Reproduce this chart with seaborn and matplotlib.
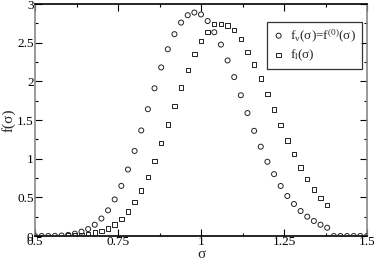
import matplotlib
matplotlib.use("Agg")
import matplotlib.pyplot as plt
import seaborn as sns
import numpy as np
import pandas as pd
from matplotlib.ticker import MultipleLocator

sigma_v = [0.50, 0.52, 0.54, 0.56, 0.58, 0.60, 0.62, 0.64, 0.66, 0.68, 0.70, 0.72, 0.74,
           0.76, 0.78, 0.80, 0.82, 0.84, 0.86, 0.88, 0.90, 0.92, 0.94, 0.96, 0.98, 1.00,
           1.02, 1.04, 1.06, 1.08, 1.10, 1.12, 1.14, 1.16, 1.18, 1.20, 1.22, 1.24, 1.26,
           1.28, 1.30, 1.32, 1.34, 1.36, 1.38, 1.40, 1.42, 1.44, 1.46, 1.48, 1.50]
f_v = [0, 0, 0, 0.002, 0.006, 0.014, 0.03, 0.056, 0.09, 0.146, 0.226, 0.332, 0.473,
       0.648, 0.86, 1.10, 1.365, 1.64, 1.91, 2.18, 2.415, 2.61, 2.76, 2.855, 2.89, 2.865,
       2.78, 2.635, 2.475, 2.27, 2.055, 1.82, 1.59, 1.36, 1.155, 0.96, 0.80, 0.647, 0.517,
       0.414, 0.323, 0.25, 0.194, 0.146, 0.107, 0, 0, 0, 0, 0, 0]

sigma_l = [0.60, 0.62, 0.64, 0.66, 0.68, 0.70, 0.72, 0.74, 0.76, 0.78, 0.80, 0.82, 0.84,
           0.86, 0.88, 0.90, 0.92, 0.94, 0.96, 0.98, 1.00, 1.02, 1.04, 1.06, 1.08, 1.10,
           1.12, 1.14, 1.16, 1.18, 1.20, 1.22, 1.24, 1.26, 1.28, 1.30, 1.32, 1.34, 1.36, 1.38]
f_l = [0.004, 0.008, 0.015, 0.025, 0.045, 0.067, 0.097, 0.148, 0.218, 0.318, 0.44, 0.586,
       0.763, 0.97, 1.20, 1.44, 1.68, 1.92, 2.15, 2.355, 2.52, 2.635, 2.74, 2.745, 2.72,
       2.665, 2.55, 2.38, 2.22, 2.035, 1.84, 1.635, 1.436, 1.235, 1.057, 0.884, 0.737,
       0.60, 0.495, 0.397]

x_ticks = [0.5, 0.75, 1.0, 1.25, 1.5]
x_ticklabels = ["0.5", "0.75", "1", "1.25", "1.5"]
y_ticks = [0, 0.5, 1, 1.5, 2, 2.5, 3]
y_ticklabels = ["0", "0.5", "1", "1.5", "2", "2.5", "3"]

sns.set_theme(style="white")
plt.rcParams['font.family'] = ['Liberation Serif', 'DejaVu Serif']
plt.rcParams['mathtext.fontset'] = 'custom'
plt.rcParams['mathtext.rm'] = 'Liberation Serif'
plt.rcParams['mathtext.it'] = 'Liberation Serif'

fig = plt.figure(figsize=(3.74, 2.60), dpi=100)
ax = fig.add_axes([0.0936, 0.0923, 0.8877, 0.8923])

df_v = pd.DataFrame({"s": sigma_v, "f": f_v})
df_l = pd.DataFrame({"s": sigma_l, "f": f_l})

sns.scatterplot(data=df_v, x="s", y="f", marker="o", s=13, facecolors="none",
                edgecolor="#222222", linewidth=0.7, ax=ax,
                label=r"f$_\mathrm{v}$(σ)=f$^{\mathrm{(0)}}$(σ)", zorder=3)
sns.scatterplot(data=df_l, x="s", y="f", marker="s", s=10, facecolors="none",
                edgecolor="#222222", linewidth=0.7, ax=ax,
                label=r"f$_\mathrm{l}$(σ)", zorder=3)

ax.set_xlim(0.5, 1.5)
ax.set_ylim(0, 3)
ax.set_xticks(x_ticks)
ax.set_xticklabels(x_ticklabels)
ax.set_yticks(y_ticks)
ax.set_yticklabels(y_ticklabels)
ax.xaxis.set_minor_locator(MultipleLocator(0.125))
ax.yaxis.set_minor_locator(MultipleLocator(0.25))
ax.tick_params(which="both", direction="in", top=True, right=True, bottom=True, left=True,
               labelsize=9.5, colors="black")
ax.tick_params(axis="x", pad=0)
ax.tick_params(axis="y", pad=1)
ax.tick_params(which="major", length=5, width=0.8)
ax.tick_params(which="minor", length=2.5, width=0.8)

ax.set_xlabel("σ", fontsize=11, labelpad=0)
ax.set_ylabel("f(σ)", fontsize=11, labelpad=1)

for side in ["top", "bottom"]:
    ax.spines[side].set_color("black")
    ax.spines[side].set_linewidth(1.2)
    ax.spines[side].set_visible(True)
for side in ["left", "right"]:
    ax.spines[side].set_color("#888888")
    ax.spines[side].set_linewidth(1.2)
    ax.spines[side].set_visible(True)

leg = ax.legend(loc="upper left", bbox_to_anchor=(0.698, 0.924), frameon=True,
                fancybox=False, fontsize=9.5, handletextpad=0.4, borderpad=0.4,
                labelspacing=0.3, handlelength=1.0, borderaxespad=0)
leg.get_frame().set_edgecolor("black")
leg.get_frame().set_linewidth(0.9)

fig.savefig("out.png", dpi=100)
